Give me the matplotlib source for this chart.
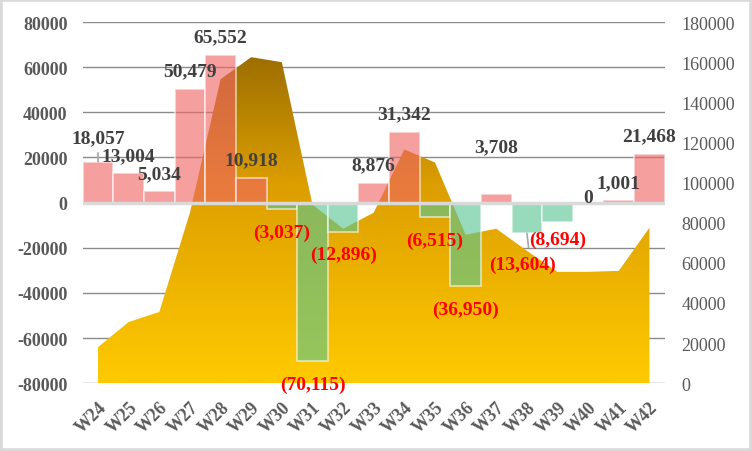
import numpy as np
import matplotlib
matplotlib.use("Agg")
import matplotlib.pyplot as plt
from matplotlib.colors import LinearSegmentedColormap
from matplotlib.patches import Rectangle
from matplotlib.transforms import blended_transform_factory

# data
weeks = ['W24', 'W25', 'W26', 'W27', 'W28', 'W29', 'W30', 'W31', 'W32', 'W33',
         'W34', 'W35', 'W36', 'W37', 'W38', 'W39', 'W40', 'W41', 'W42']
weekly_change = [18057, 13004, 5034, 50479, 65552, 10918, -3037, -70115, -12896, 8876,
                 31342, -6515, -36950, 3708, -13604, -8694, 0, 1001, 21468]
cumulative = [18000, 30500, 35500, 85000, 151500, 162500, 160000, 89000, 77000, 85000,
              116500, 110000, 74000, 77000, 66000, 55500, 55500, 56000, 77500]

left_ticks = list(range(-80000, 80001, 20000))
right_ticks = list(range(0, 180001, 20000))

# label nudges in pixels (dx, dy) where the reference moves a label off its default spot
label_nudge = {'W24': (0, 6), 'W37': (0, 30), 'W38': (-4, -8), 'W39': (0, 6), 'W40': (0, -13)}

plt.rcParams['font.family'] = ['Liberation Serif', 'DejaVu Serif']

fig = plt.figure(figsize=(7.52, 4.52), dpi=100)
fig.patches.append(Rectangle((0, 0), 1, 1, transform=fig.transFigure, fill=False,
                             edgecolor='#D9D9D9', linewidth=4))
ax = fig.add_axes([0.110, 0.150, 0.774, 0.799])
ax2 = ax.twinx()
ax.set_zorder(2)
ax2.set_zorder(1)
ax.patch.set_visible(False)

x = np.arange(len(weeks))

# gridlines belong to the left scale but sit behind the area
grid_tf = blended_transform_factory(ax2.transAxes, ax.transData)
for t in left_ticks:
    ax2.plot([0, 1], [t, t], transform=grid_tf, color='#8C8C8C', lw=1, zorder=0)

# area with vertical gradient
fill = ax2.fill_between(x, 0, cumulative, facecolor='none', edgecolor='none')
cmap = LinearSegmentedColormap.from_list('gold', [(0.0, '#FFCA00'), (0.55, '#DC9E00'), (1.0, '#8C6200')])
grad = np.linspace(0, 1, 256).reshape(-1, 1)
im = ax2.imshow(grad, cmap=cmap, origin='lower', aspect='auto',
                extent=[-0.5, len(weeks) - 0.5, 0, 180000], zorder=1)
im.set_clip_path(fill.get_paths()[0], transform=ax2.transData)

# bars
colors = ['#F06464' if v >= 0 else '#58C694' for v in weekly_change]
ax.bar(x, weekly_change, width=1.0, color=colors, alpha=0.62, edgecolor='white',
       linewidth=1.2, zorder=2)
ax.axhline(0, color='#D9D9D9', lw=2.5, zorder=3)

# data labels
for i, v in enumerate(weekly_change):
    dx, dy = label_nudge.get(weeks[i], (0, 0))
    if v >= 0:
        txt, col, off = f'{v:,}', '#404040', 18
    else:
        txt, col, off = f'({-v:,})', '#FF0000', -23
    ax.annotate(txt, (x[i], v), xytext=((dx) * 0.72, (off + dy) * 0.72),
                textcoords='offset points', ha='center', va='center',
                fontsize=14, fontweight='bold', color=col, zorder=5)

# small leader lines seen in the reference
ax.annotate('', (0, weekly_change[0]), xytext=(0, 1.5 * 0.72 * 6), textcoords='offset points',
            arrowprops=dict(arrowstyle='-', color='#A6A6A6', lw=1.2, shrinkA=0, shrinkB=0))
ax.annotate('', (14, weekly_change[14]), xytext=(1.2, -14 * 0.72), textcoords='offset points',
            arrowprops=dict(arrowstyle='-', color='#A6A6A6', lw=1.2, shrinkA=0, shrinkB=0))

ax.set_xlim(-0.5, len(weeks) - 0.5)
ax.set_ylim(-80000, 80000)
ax2.set_ylim(0, 180000)
ax.set_yticks(left_ticks)
ax2.set_yticks(right_ticks)
ax.set_yticklabels([str(t) for t in left_ticks], fontsize=13, fontweight='bold', color='#595959')
ax2.set_yticklabels([str(t) for t in right_ticks], fontsize=13, color='#595959')
ax.set_xticks(x)
ax.set_xticklabels(weeks, rotation=45, ha='right', rotation_mode='anchor',
                   fontsize=13, fontweight='bold', color='#595959')
ax.tick_params(axis='y', length=0, pad=11)
ax2.tick_params(axis='y', length=0, pad=12)
ax.tick_params(axis='x', length=0, pad=11)
for a in (ax, ax2):
    for s in a.spines.values():
        s.set_visible(False)

fig.savefig('out.png', dpi=100)
